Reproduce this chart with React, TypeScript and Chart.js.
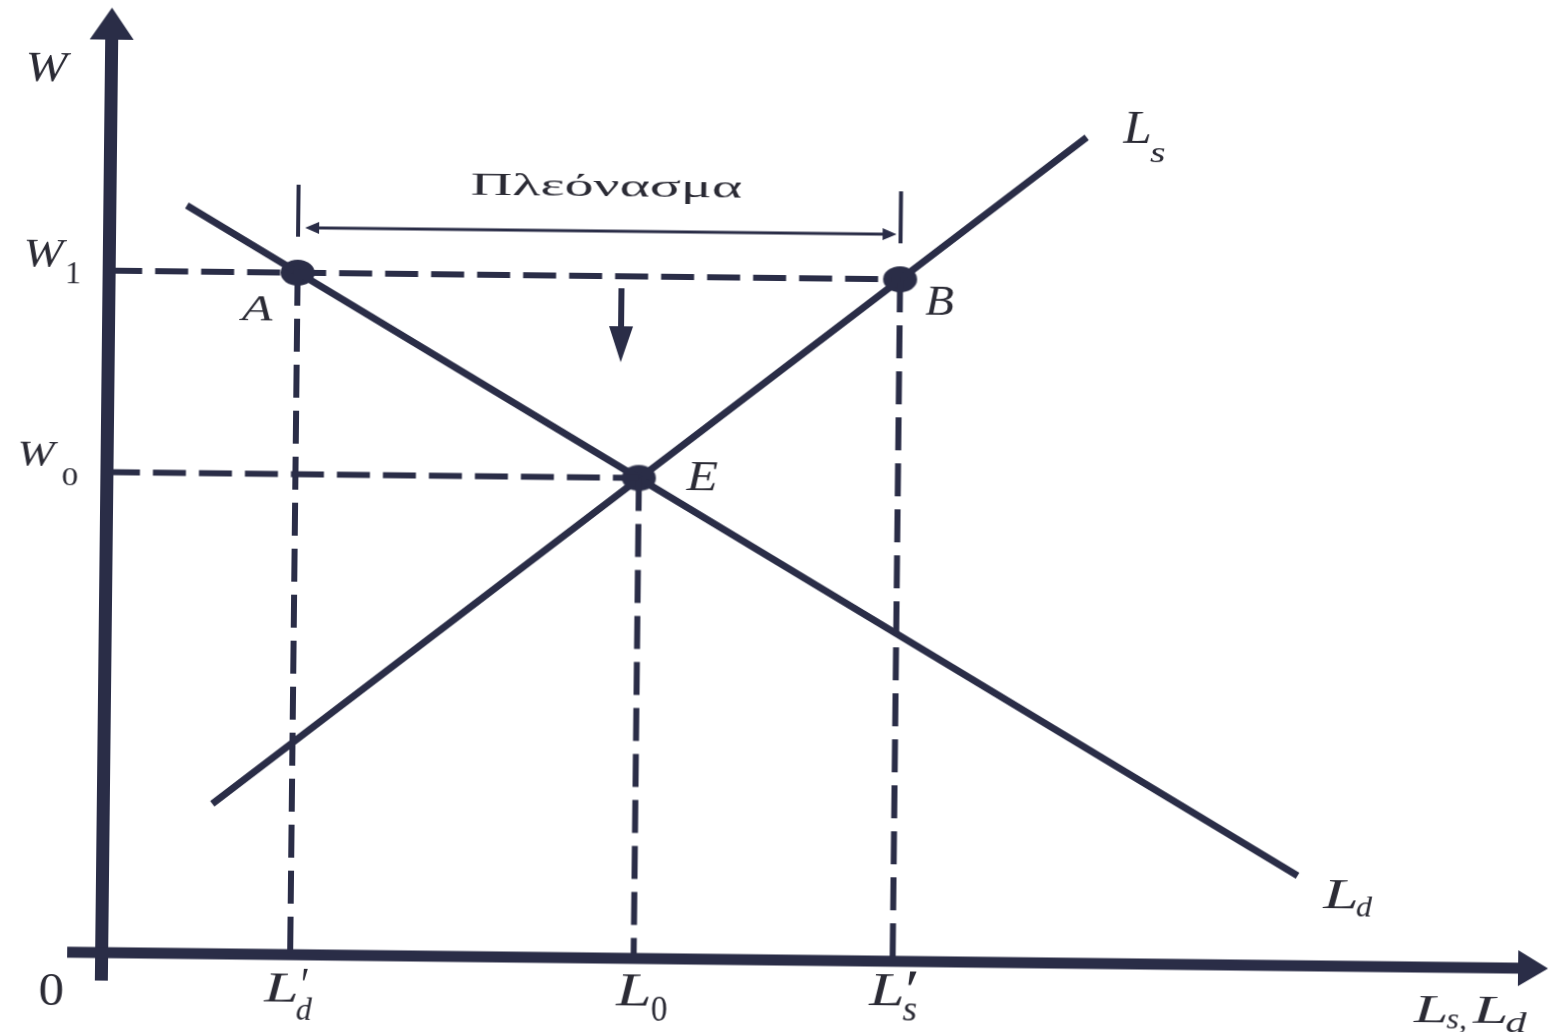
import React, { useEffect, useRef } from "react";
import { Chart, registerables } from "chart.js";

Chart.register(...registerables);

// ---- data (chart units: origin at the axes' intersection) ----
const wageValues = [68.2, 48.05]; // W1, W0
const labourValues = [18.85, 53.2, 79.1]; // L'd, L0, L's
const demandCurve = [
  { x: 7.7, y: 74.8 },
  { x: 119.5, y: 9.0 },
];
const supplyCurve = [
  { x: 10.9, y: 15.0 },
  { x: 97.6, y: 82.6 },
];
const pointNames = ["A", "E", "B"];
const surplusTickSpan = [71.8, 77.0];
const surplusArrowLevel = [72.7];
const pressureArrow = [51.25, 67.0, 59.6]; // x, start y, tip y
const xAxisSpan = [-3.45, 144.65];
const yAxisSpan = [-2.8, 94.5];

const INK = "#2a2d47";
const TEXT = "#2b2b35";
const ITALIC = 'italic 40px "Liberation Serif"';
const UPRIGHT = '40px "Liberation Serif"';

const W1 = wageValues[0];
const W0 = wageValues[1];
const LdP = labourValues[0];
const L0 = labourValues[1];
const LsP = labourValues[2];

const pointA = { x: LdP, y: W1 };
const pointE = { x: L0, y: W0 };
const pointB = { x: LsP, y: W1 };

type Lbl = {
  text: string;
  font: string;
  ax: number;
  ay: number;
  box: [number, number, number, number]; // left, top, right, bottom (px offsets from anchor)
};

const labels: Lbl[] = [
  { text: "W", font: ITALIC, ax: 0, ay: 96, box: [-83.5, 61, -39.5, 90] },
  { text: "W", font: ITALIC, ax: 0, ay: W1, box: [-83.5, -30, -41.5, -3] },
  { text: "1", font: UPRIGHT, ax: 0, ay: W1, box: [-41.5, -7, -29.5, 13] },
  { text: "W", font: ITALIC, ax: 0, ay: W0, box: [-87.5, -28.5, -48.5, -4.5] },
  { text: "0", font: UPRIGHT, ax: 0, ay: W0, box: [-44.5, -3.5, -29.5, 13.5] },
  { text: "0", font: UPRIGHT, ax: 0, ay: 0, box: [-61.5, 23, -38.5, 53] },
  { text: "L", font: ITALIC, ax: LdP, ay: 0, box: [-27, 20, 7, 47] },
  { text: "d", font: ITALIC, ax: LdP, ay: 0, box: [7, 42, 23, 65] },
  { text: "′", font: UPRIGHT, ax: LdP, ay: 0, box: [12, 15, 18, 27] },
  { text: "L", font: ITALIC, ax: L0, ay: 0, box: [-18.5, 17, 16.5, 47] },
  { text: "0", font: UPRIGHT, ax: L0, ay: 0, box: [18.5, 39, 33.5, 62] },
  { text: "L", font: ITALIC, ax: LsP, ay: 0, box: [-24.5, 14, 10.5, 44] },
  { text: "s", font: ITALIC, ax: LsP, ay: 0, box: [10.5, 41, 24.5, 59] },
  { text: "′", font: UPRIGHT, ax: LsP, ay: 0, box: [14.5, 12, 24.5, 26] },
  { text: pointNames[0], font: ITALIC, ax: pointA.x, ay: pointA.y, box: [-59, 25, -24, 48] },
  { text: pointNames[2], font: ITALIC, ax: pointB.x, ay: pointB.y, box: [25.5, 8, 53.5, 35] },
  { text: pointNames[1], font: ITALIC, ax: pointE.x, ay: pointE.y, box: [46.5, -15.5, 78.5, 11.5] },
  { text: "L", font: ITALIC, ax: supplyCurve[1].x, ay: supplyCurve[1].y, box: [35.5, -25, 63.5, 5] },
  { text: "s", font: ITALIC, ax: supplyCurve[1].x, ay: supplyCurve[1].y, box: [63.5, 9, 78.5, 24] },
  { text: "L", font: ITALIC, ax: demandCurve[1].x, ay: demandCurve[1].y, box: [24.5, 4, 59.5, 32] },
  { text: "d", font: ITALIC, ax: demandCurve[1].x, ay: demandCurve[1].y, box: [59.5, 18, 75.5, 40] },
  { text: "L", font: ITALIC, ax: 0, ay: 0, box: [1311.5, 29, 1345.5, 55] },
  { text: "s,", font: ITALIC, ax: 0, ay: 0, box: [1345.5, 46, 1364.5, 66] },
  { text: "L", font: ITALIC, ax: 0, ay: 0, box: [1370.5, 29, 1405.5, 55] },
  { text: "d", font: ITALIC, ax: 0, ay: 0, box: [1405.5, 42, 1426.5, 64] },
  { text: "Πλεόνασμα", font: UPRIGHT, ax: LdP, ay: W1, box: [173.5, -103, 443.5, -73] },
];

function drawFit(ctx: CanvasRenderingContext2D, text: string, font: string, l: number, t: number, r: number, b: number) {
  ctx.save();
  ctx.font = font;
  ctx.textAlign = "left";
  ctx.textBaseline = "alphabetic";
  const m = ctx.measureText(text);
  const iw = m.actualBoundingBoxLeft + m.actualBoundingBoxRight;
  const ih = m.actualBoundingBoxAscent + m.actualBoundingBoxDescent;
  const sx = (r - l) / iw;
  const sy = (b - t) / ih;
  ctx.translate(l, t);
  ctx.scale(sx, sy);
  ctx.fillStyle = TEXT;
  ctx.fillText(text, m.actualBoundingBoxLeft, m.actualBoundingBoxAscent);
  ctx.restore();
}

function tri(ctx: CanvasRenderingContext2D, pts: number[][]) {
  ctx.beginPath();
  ctx.moveTo(pts[0][0], pts[0][1]);
  ctx.lineTo(pts[1][0], pts[1][1]);
  ctx.lineTo(pts[2][0], pts[2][1]);
  ctx.closePath();
  ctx.fill();
}

const overlay = {
  id: "overlay",
  afterDatasetsDraw(chart: any) {
    const ctx: CanvasRenderingContext2D = chart.ctx;
    const xs = chart.scales.x;
    const ys = chart.scales.y;
    const X = (v: number) => xs.getPixelForValue(v);
    const Y = (v: number) => ys.getPixelForValue(v);
    ctx.save();
    ctx.fillStyle = INK;
    ctx.strokeStyle = INK;
    ctx.lineCap = "butt";

    // y axis
    const yx = X(0);
    const yTip = Y(yAxisSpan[1]);
    ctx.lineWidth = 13;
    ctx.beginPath();
    ctx.moveTo(yx, Y(yAxisSpan[0]));
    ctx.lineTo(yx, yTip + 30);
    ctx.stroke();
    tri(ctx, [[yx, yTip], [yx - 22, yTip + 32], [yx + 22, yTip + 32]]);

    // x axis
    const xy = Y(0);
    const xTip = X(xAxisSpan[1]);
    ctx.lineWidth = 11;
    ctx.beginPath();
    ctx.moveTo(X(xAxisSpan[0]), xy);
    ctx.lineTo(xTip - 28, xy);
    ctx.stroke();
    tri(ctx, [[xTip, xy], [xTip - 30, xy - 18], [xTip - 30, xy + 18]]);

    // surplus double arrow heads
    const ay = Y(surplusArrowLevel[0]);
    const lTip = X(LdP) + 7;
    const rTip = X(LsP) - 4;
    tri(ctx, [[lTip, ay], [lTip + 14, ay - 6], [lTip + 14, ay + 6]]);
    tri(ctx, [[rTip, ay], [rTip - 14, ay - 6], [rTip - 14, ay + 6]]);

    // downward pressure arrow head
    const px = X(pressureArrow[0]);
    const pTip = Y(pressureArrow[2]);
    tri(ctx, [[px, pTip], [px - 12, pTip - 36], [px + 12, pTip - 36]]);

    ctx.restore();

    for (const lb of labels) {
      const axp = X(lb.ax);
      const ayp = Y(lb.ay);
      drawFit(ctx, lb.text, lb.font, axp + lb.box[0], ayp + lb.box[1], axp + lb.box[2], ayp + lb.box[3]);
    }
  },
};

function makeDot(): HTMLCanvasElement {
  const c = document.createElement("canvas");
  c.width = 36;
  c.height = 28;
  const g = c.getContext("2d")!;
  g.fillStyle = INK;
  g.beginPath();
  g.ellipse(18, 14, 17, 13, 0, 0, Math.PI * 2);
  g.fill();
  return c;
}

export default function App() {
  const ref = useRef<HTMLCanvasElement | null>(null);

  useEffect(() => {
    if (!ref.current) return;
    const dash = [33, 13];
    const dashed = (data: { x: number; y: number }[]) => ({
      data,
      showLine: true,
      borderColor: INK,
      borderWidth: 6,
      borderDash: dash,
      pointRadius: 0,
      fill: false,
    });
    const solid = (data: { x: number; y: number }[], w: number) => ({
      data,
      showLine: true,
      borderColor: INK,
      borderWidth: w,
      pointRadius: 0,
      fill: false,
    });
    const tipBase = pressureArrow[2] + 3.4;

    const chart = new Chart(ref.current, {
      type: "scatter",
      data: {
        datasets: [
          dashed([{ x: 0, y: W1 }, { x: LsP, y: W1 }]),
          dashed([{ x: 0, y: W0 }, { x: L0, y: W0 }]),
          dashed([{ x: LdP, y: W1 }, { x: LdP, y: 0 }]),
          dashed([{ x: L0, y: W0 }, { x: L0, y: 0 }]),
          dashed([{ x: LsP, y: W1 }, { x: LsP, y: 0 }]),
          solid(demandCurve, 7),
          solid(supplyCurve, 7),
          solid([{ x: LdP, y: surplusTickSpan[0] }, { x: LdP, y: surplusTickSpan[1] }], 4),
          solid([{ x: LsP, y: surplusTickSpan[0] }, { x: LsP, y: surplusTickSpan[1] }], 4),
          solid([{ x: LdP + 1.5, y: surplusArrowLevel[0] }, { x: LsP - 1.5, y: surplusArrowLevel[0] }], 3),
          solid([{ x: pressureArrow[0], y: pressureArrow[1] }, { x: pressureArrow[0], y: tipBase }], 6),
          {
            data: [pointA, pointE, pointB],
            showLine: false,
            pointStyle: makeDot() as any,
            pointRadius: 12,
            borderWidth: 0,
          } as any,
        ],
      },
      options: {
        responsive: false,
        maintainAspectRatio: false,
        animation: false,
        layout: { padding: 0, autoPadding: false },
        plugins: { legend: { display: false }, tooltip: { enabled: false } },
        events: [],
        scales: {
          x: { type: "linear", display: false, min: -10.65, max: 144.85 },
          y: { type: "linear", display: false, min: -7.2, max: 96 },
        },
      } as any,
      plugins: [overlay as any],
    });
    return () => chart.destroy();
  }, []);

  return (
    <div
      style={{
        position: "fixed",
        left: 0,
        top: 0,
        width: 1555,
        height: 1032,
        overflow: "hidden",
        background: "#ffffff",
      }}
    >
      <canvas
        ref={ref}
        width={1555}
        height={1032}
        style={{
          display: "block",
          width: 1555,
          height: 1032,
          transform: "rotate(0.63deg)",
          transformOrigin: "777.5px 516px",
        }}
      />
    </div>
  );
}
